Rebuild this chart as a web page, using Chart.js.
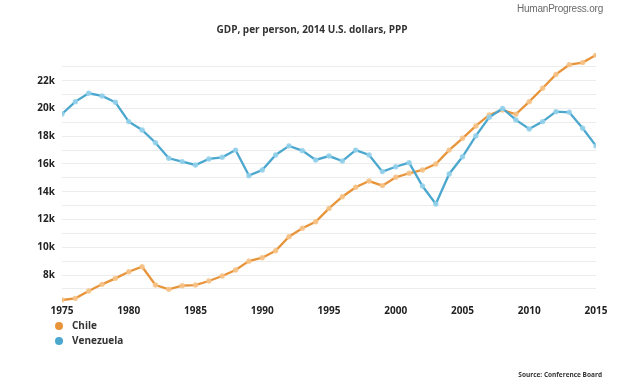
<!DOCTYPE html>
<html>
<head>
<meta charset="utf-8">
<script src="https://cdn.jsdelivr.net/npm/chart.js@4"></script>
<style>
  body { margin: 0; background: #fff; }
  #wrap { position: relative; width: 624px; height: 386px; font-family: "Open Sans", sans-serif; }
  #site { position: absolute; right: 21px; top: 3px; font: 10px "Liberation Sans", sans-serif; color: #6a6a6a; letter-spacing: -0.2px; }
  #titulo { position: absolute; left: 0; width: 624px; top: 22px; text-align: center; font-weight: 700; font-size: 10px; color: #333; }
  #legenda { position: absolute; left: 55px; top: 318px; font-weight: 700; font-size: 10px; color: #333; }
  #legenda div { height: 14.5px; line-height: 14px; }
  #legenda span { display: inline-block; width: 8px; height: 8px; border-radius: 50%; margin-right: 9px; vertical-align: -1px; }
  #fonte { position: absolute; right: 22px; top: 370px; font-weight: 700; font-size: 6.5px; color: #333; }
</style>
</head>
<body>
<div id="wrap">
  <canvas id="grafico" width="624" height="386"></canvas>
  <div id="site">HumanProgress.org</div>
  <div id="titulo">GDP, per person, 2014 U.S. dollars, PPP</div>
  <div id="legenda">
    <div><span style="background:#e8943a"></span>Chile</div>
    <div><span style="background:#4ba7ce"></span>Venezuela</div>
  </div>
  <div id="fonte">Source: Conference Board</div>
</div>
<script>
// anos e valores (dolares)
const anos = [1975, 1976, 1977, 1978, 1979, 1980, 1981, 1982, 1983, 1984,
  1985, 1986, 1987, 1988, 1989, 1990, 1991, 1992, 1993, 1994,
  1995, 1996, 1997, 1998, 1999, 2000, 2001, 2002, 2003, 2004,
  2005, 2006, 2007, 2008, 2009, 2010, 2011, 2012, 2013, 2014, 2015];

const chile = [6200, 6320, 6850, 7330, 7760, 8240, 8600, 7280, 6970, 7230,
  7280, 7570, 7930, 8360, 9000, 9250, 9750, 10760, 11370, 11840,
  12800, 13640, 14320, 14770, 14440, 15040, 15330, 15570, 16000, 17000,
  17850, 18740, 19530, 19890, 19580, 20490, 21450, 22450, 23150, 23300, 23850];

const venezuela = [19600, 20490, 21090, 20900, 20440, 19050, 18450, 17530, 16410, 16170,
  15930, 16360, 16480, 17000, 15160, 15570, 16650, 17300, 16960, 16290,
  16570, 16210, 17000, 16650, 15450, 15800, 16090, 14410, 13120, 15280,
  16520, 18020, 19360, 20000, 19170, 18520, 19050, 19770, 19720, 18570, 17300];

const rotulosY = [8000, 10000, 12000, 14000, 16000, 18000, 20000, 22000];

function serie(nome, valores, cor, halo) {
  return {
    label: nome,
    data: anos.map((a, i) => ({ x: a, y: valores[i] })),
    borderColor: cor,
    borderWidth: 2.3,
    pointRadius: 2.7,
    pointBackgroundColor: halo,
    pointBorderWidth: 0,
    tension: 0
  };
}

const ctx = document.getElementById('grafico').getContext('2d');
const grafico = new Chart(ctx, {
  type: 'line',
  data: {
    datasets: [
      serie('Venezuela', venezuela, '#4ba7ce', 'rgba(150,210,235,0.9)'),
      serie('Chile', chile, '#e8943a', 'rgba(246,195,138,0.9)')
    ]
  },
  options: {
    responsive: false,
    animation: false,
    layout: { padding: { top: 52.9, right: 28, left: 0, bottom: 0 } },
    plugins: { legend: { display: false }, tooltip: { enabled: false } },
    scales: {
      x: {
        type: 'linear', min: 1975, max: 2015,
        grid: { display: false, drawTicks: false, tickLength: 0 },
        border: { display: false },
        ticks: {
          stepSize: 5, padding: 2, color: '#222',
          font: { family: 'Open Sans', weight: 'bold', size: 10 },
          maxRotation: 0,
          callback: v => String(v)
        },
        afterFit: s => { s.height = 83.2; }
      },
      y: {
        min: 6000, max: 24000,
        border: { display: false },
        grid: {
          drawTicks: false,
          color: c => (c.tick.value <= 6000 || c.tick.value >= 24000) ? 'rgba(0,0,0,0)' : '#ececec',
          lineWidth: 1
        },
        ticks: {
          stepSize: 1000, padding: 7, color: '#222',
          font: { family: 'Open Sans', weight: 'bold', size: 10 },
          autoSkip: false,
          callback: v => rotulosY.includes(v) ? (v / 1000) + 'k' : ''
        },
        afterFit: s => { s.width = 62; }
      }
    }
  }
});
</script>
</body>
</html>
